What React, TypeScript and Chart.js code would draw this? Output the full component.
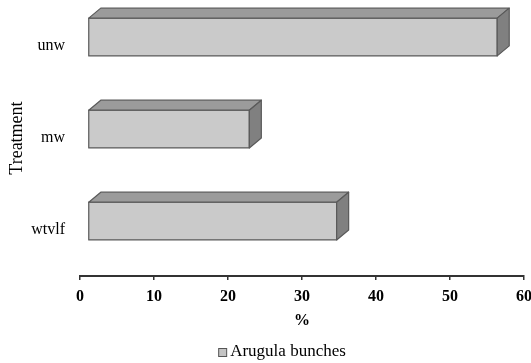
import React, { useEffect, useRef } from "react";
import { Chart, registerables } from "chart.js";

Chart.register(...registerables);

const categories = ["unw", "mw", "wtvlf"];
const seriesName = "Arugula bunches";
const values = [55.3, 21.8, 33.6];
const xTicks = [0, 10, 20, 30, 40, 50, 60];

const FONT = "'Liberation Serif', 'Times New Roman', serif";

const bars3d = {
  id: "bars3d",
  afterDatasetsDraw(chart: any) {
    const ctx = chart.ctx;
    const meta = chart.getDatasetMeta(0);
    const OX = 8, OY = 9, DX = 12, DY = 10;
    ctx.save();
    ctx.lineWidth = 1.2;
    ctx.strokeStyle = "#5a5a5a";
    ctx.lineJoin = "round";
    meta.data.forEach((el: any) => {
      const p = el.getProps(["x", "y", "base", "height"], true);
      const left = p.base + OX;
      const right = p.x + OX;
      const top = p.y - p.height / 2 - OY;
      const bottom = p.y + p.height / 2 - OY;
      ctx.fillStyle = "#cacaca";
      ctx.beginPath();
      ctx.rect(left, top, right - left, bottom - top);
      ctx.fill();
      ctx.stroke();
      ctx.fillStyle = "#9b9b9b";
      ctx.beginPath();
      ctx.moveTo(left, top);
      ctx.lineTo(left + DX, top - DY);
      ctx.lineTo(right + DX, top - DY);
      ctx.lineTo(right, top);
      ctx.closePath();
      ctx.fill();
      ctx.stroke();
      ctx.fillStyle = "#808080";
      ctx.beginPath();
      ctx.moveTo(right, top);
      ctx.lineTo(right + DX, top - DY);
      ctx.lineTo(right + DX, bottom - DY);
      ctx.lineTo(right, bottom);
      ctx.closePath();
      ctx.fill();
      ctx.stroke();
    });
    ctx.restore();
  },
};

const bottomLegend = {
  id: "bottomLegend",
  afterDraw(chart: any) {
    const ctx = chart.ctx;
    const ca = chart.chartArea;
    ctx.save();
    ctx.font = `17px ${FONT}`;
    const tw = ctx.measureText(seriesName).width;
    const box = 8, gap = 4;
    const total = box + gap + tw;
    const cx = (ca.left + ca.right) / 2 - 20;
    const x0 = cx - total / 2;
    const cy = chart.height - 11;
    ctx.fillStyle = "#c4c4c4";
    ctx.strokeStyle = "#555";
    ctx.lineWidth = 1;
    ctx.fillRect(x0 + 0.5, cy - box / 2 + 0.5, box, box);
    ctx.strokeRect(x0 + 0.5, cy - box / 2 + 0.5, box, box);
    ctx.fillStyle = "#000";
    ctx.textBaseline = "middle";
    ctx.textAlign = "left";
    ctx.fillText(seriesName, x0 + box + gap, cy);
    ctx.restore();
  },
};

export default function App() {
  const ref = useRef<HTMLCanvasElement>(null);
  useEffect(() => {
    if (!ref.current) return;
    Chart.defaults.font.family = FONT;
    const chart = new Chart(ref.current, {
      type: "bar",
      data: {
        labels: categories,
        datasets: [
          {
            label: seriesName,
            data: values,
            backgroundColor: "rgba(0,0,0,0)",
            borderWidth: 0,
            categoryPercentage: 1,
            barPercentage: 0.41,
          },
        ],
      },
      options: {
        indexAxis: "y",
        animation: false,
        responsive: true,
        maintainAspectRatio: false,
        layout: { padding: { top: 0, right: 7, bottom: 19.5, left: 0 } },
        plugins: {
          tooltip: { enabled: false },
          legend: { display: false },
        },
        scales: {
          x: {
            min: 0,
            max: 60,
            afterBuildTicks: (s: any) => {
              s.ticks = xTicks.map((v) => ({ value: v }));
            },
            afterFit: (s: any) => {
              s.paddingRight = 0;
              s.paddingLeft = 0;
            },
            ticks: {
              color: "#000",
              font: { family: FONT, size: 16, weight: "bold" },
              padding: 7,
            },
            grid: {
              drawOnChartArea: false,
              drawTicks: true,
              tickLength: 4,
              color: "#333",
              lineWidth: 1.5,
            },
            border: { display: true, color: "#333", width: 2 },
            title: {
              display: true,
              text: "%",
              color: "#000",
              font: { family: FONT, size: 16, weight: "bold" },
              padding: { top: -2, bottom: 13 },
            },
          },
          y: {
            afterFit: (s: any) => {
              s.width = 80;
              s.paddingTop = 0;
              s.paddingBottom = 0;
            },
            ticks: {
              color: "#000",
              font: { family: FONT, size: 16 },
              padding: 15,
            },
            grid: { display: false, drawTicks: false },
            border: { display: false },
            title: {
              display: true,
              text: "Treatment",
              color: "#000",
              font: { family: FONT, size: 18 },
              padding: { top: 6, bottom: 4 },
            },
          },
        },
      },
      plugins: [bars3d, bottomLegend],
    });
    return () => chart.destroy();
  }, []);
  return (
    <div style={{ position: "absolute", left: 0, top: 0, width: 531, height: 363 }}>
      <canvas ref={ref} />
    </div>
  );
}
